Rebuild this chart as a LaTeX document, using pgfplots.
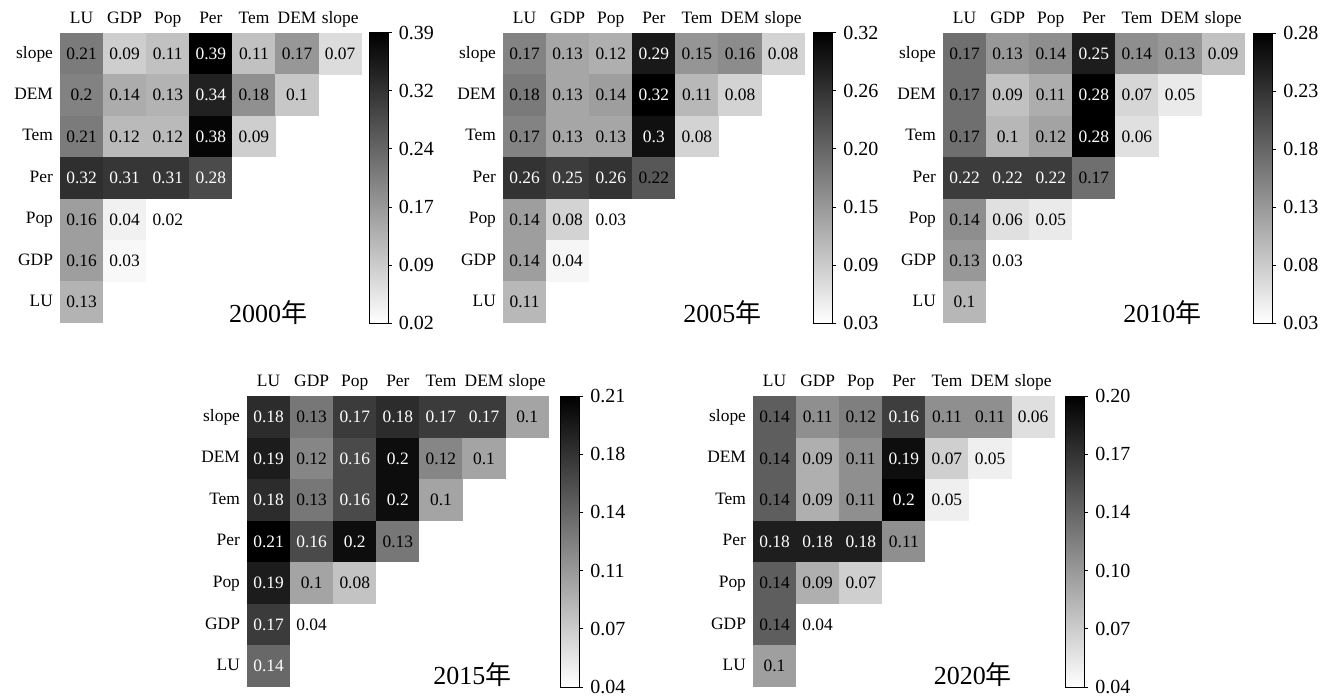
\documentclass[border=0pt]{standalone}
\usepackage{fontspec}
\setmainfont{Liberation Serif}
\newfontfamily\cjk{Noto Sans CJK SC}
\usepackage{pgfplots}
\pgfplotsset{compat=1.18}

\pgfdeclareplotmark{cellbox}{\pgfpathrectangle{\pgfqpoint{-10.8pt}{-10.4pt}}{\pgfqpoint{21.6pt}{20.8pt}}\pgfusepathqfill}

\pgfplotsset{
  colormap={wb}{color(0cm)=(white); color(1cm)=(black)},
  hm/.style n args={5}{
    anchor=south west, at={(#1,#2)},
    scale only axis, width=150.85pt, height=#3,
    xmin=-0.5, xmax=6.5, ymin=-0.5, ymax=6.5,
    xtick={0,...,6}, ytick={0,...,6},
    xticklabels={LU,GDP,Pop,Per,Tem,DEM,slope},
    yticklabels={LU,GDP,Pop,Per,Tem,DEM,slope},
    xticklabel pos=upper,
    axis line style={draw=none}, tick style={draw=none},
    tick label style={font=\fontsize{8.7}{10}\selectfont, text height=1.4ex, text depth=0.45ex},
    xticklabel shift=-1pt,
    colormap name=wb,
    point meta min=#4, point meta max=#5,
    clip=false,
  },
  cb/.style n args={5}{
    anchor=south west, at={(#1,#2)},
    scale only axis, width=9.5pt, height=#3,
    xmin=0, xmax=1, ymin=#4, ymax=#5,
    xtick=\empty,
    axis on top,
    axis line style={draw=black, line width=0.5pt},
    tick style={draw=black, line width=0.5pt},
    ytick pos=right, yticklabel pos=right,
    tick align=outside, major tick length=1.8pt,
    yticklabel style={font=\fontsize{10}{12}\selectfont},
  },
  cells/.style={
    only marks, mark=cellbox, point meta=explicit,
    scatter,
    scatter/use mapped color={draw=mapped color, fill=mapped color},
    scatter/@post marker code/.append code={%
      \node[anchor=center, inner sep=0pt, font=\fontsize{8.7}{10}\selectfont, text=#1]
        {\pgfmathprintnumber[fixed,precision=2,assume math mode=true]{\pgfplotspointmeta}};},
  },
}

\begin{document}
\begin{tikzpicture}
\useasboundingbox (0,0) rectangle (662pt,349pt);

% 2000
\begin{axis}[hm={30pt}{187.5pt}{145pt}{0.02}{0.39}]
\addplot[cells=black] coordinates {
 (0,6)[0.21] (1,6)[0.09] (2,6)[0.11] (4,6)[0.11] (5,6)[0.17] (6,6)[0.07]
 (0,5)[0.2] (1,5)[0.14] (2,5)[0.13] (4,5)[0.18] (5,5)[0.1]
 (0,4)[0.21] (1,4)[0.12] (2,4)[0.12] (4,4)[0.09]
 (0,2)[0.16] (1,2)[0.04] (2,2)[0.02]
 (0,1)[0.16] (1,1)[0.03]
 (0,0)[0.13]};
\addplot[cells=white] coordinates {
 (3,6)[0.39] (3,5)[0.34] (3,4)[0.38]
 (0,3)[0.32] (1,3)[0.31] (2,3)[0.31] (3,3)[0.28]};
\node[font=\fontsize{13}{15}\selectfont] at (axis cs:4.33,-0.24) {2000{\cjk 年}};
\end{axis}
\begin{axis}[cb={184.55pt}{187.5pt}{145pt}{0.02}{0.39},
  ytick={0.02,0.094,0.168,0.242,0.316,0.39},
  yticklabels={0.02,0.09,0.17,0.24,0.32,0.39}]
\fill[bottom color=white, top color=black] (axis cs:0,0.02) rectangle (axis cs:1,0.39);
\end{axis}

% 2005
\begin{axis}[hm={251.5pt}{187.5pt}{145pt}{0.03}{0.32}]
\addplot[cells=black] coordinates {
 (0,6)[0.17] (1,6)[0.13] (2,6)[0.12] (4,6)[0.15] (5,6)[0.16] (6,6)[0.08]
 (0,5)[0.18] (1,5)[0.13] (2,5)[0.14] (4,5)[0.11] (5,5)[0.08]
 (0,4)[0.17] (1,4)[0.13] (2,4)[0.13] (4,4)[0.08]
 (3,3)[0.22]
 (0,2)[0.14] (1,2)[0.08] (2,2)[0.03]
 (0,1)[0.14] (1,1)[0.04]
 (0,0)[0.11]};
\addplot[cells=white] coordinates {
 (3,6)[0.29] (3,5)[0.32] (3,4)[0.3]
 (0,3)[0.26] (1,3)[0.25] (2,3)[0.26]};
\node[font=\fontsize{13}{15}\selectfont] at (axis cs:4.59,-0.24) {2005{\cjk 年}};
\end{axis}
\begin{axis}[cb={406.85pt}{187.5pt}{145pt}{0.03}{0.32},
  ytick={0.03,0.088,0.146,0.204,0.262,0.32},
  yticklabels={0.03,0.09,0.15,0.20,0.26,0.32}]
\fill[bottom color=white, top color=black] (axis cs:0,0.03) rectangle (axis cs:1,0.32);
\end{axis}

% 2010
\begin{axis}[hm={471.5pt}{187.5pt}{145pt}{0.03}{0.28}]
\addplot[cells=black] coordinates {
 (0,6)[0.17] (1,6)[0.13] (2,6)[0.14] (4,6)[0.14] (5,6)[0.13] (6,6)[0.09]
 (0,5)[0.17] (1,5)[0.09] (2,5)[0.11] (4,5)[0.07] (5,5)[0.05]
 (0,4)[0.17] (1,4)[0.1] (2,4)[0.12] (4,4)[0.06]
 (3,3)[0.17]
 (0,2)[0.14] (1,2)[0.06] (2,2)[0.05]
 (0,1)[0.13] (1,1)[0.03]
 (0,0)[0.1]};
\addplot[cells=white] coordinates {
 (3,6)[0.25] (3,5)[0.28] (3,4)[0.28]
 (0,3)[0.22] (1,3)[0.22] (2,3)[0.22]};
\node[font=\fontsize{13}{15}\selectfont] at (axis cs:4.59,-0.24) {2010{\cjk 年}};
\node[font=\fontsize{8.7}{10}\selectfont, inner sep=0pt] at (axis cs:3.61,4.76) {o};
\end{axis}
\begin{axis}[cb={626.85pt}{187.5pt}{145pt}{0.03}{0.28},
  ytick={0.03,0.08,0.13,0.18,0.23,0.28},
  yticklabels={0.03,0.08,0.13,0.18,0.23,0.28}]
\fill[bottom color=white, top color=black] (axis cs:0,0.03) rectangle (axis cs:1,0.28);
\end{axis}

% 2015
\begin{axis}[hm={123.5pt}{5.5pt}{145.5pt}{0.04}{0.21}]
\addplot[cells=black] coordinates {
 (1,6)[0.13] (6,6)[0.1]
 (1,5)[0.12] (4,5)[0.12] (5,5)[0.1]
 (1,4)[0.13] (4,4)[0.1]
 (3,3)[0.13]
 (1,2)[0.1] (2,2)[0.08]
 (1,1)[0.04]};
\addplot[cells=white] coordinates {
 (0,6)[0.18] (2,6)[0.17] (3,6)[0.18] (4,6)[0.17] (5,6)[0.17]
 (0,5)[0.19] (2,5)[0.16] (3,5)[0.2]
 (0,4)[0.18] (2,4)[0.16] (3,4)[0.2]
 (0,3)[0.21] (1,3)[0.16] (2,3)[0.2]
 (0,2)[0.19]
 (0,1)[0.17]
 (0,0)[0.14]};
\node[font=\fontsize{13}{15}\selectfont] at (axis cs:4.73,-0.21) {2015{\cjk 年}};
\end{axis}
\begin{axis}[cb={280.35pt}{5.5pt}{145.5pt}{0.04}{0.21},
  ytick={0.04,0.074,0.108,0.142,0.176,0.21},
  yticklabels={0.04,0.07,0.11,0.14,0.18,0.21}]
\fill[bottom color=white, top color=black] (axis cs:0,0.04) rectangle (axis cs:1,0.21);
\end{axis}

% 2020
\begin{axis}[hm={376.5pt}{5.5pt}{145.5pt}{0.04}{0.20}]
\addplot[cells=black] coordinates {
 (0,6)[0.14] (1,6)[0.11] (2,6)[0.12] (4,6)[0.11] (5,6)[0.11] (6,6)[0.06]
 (0,5)[0.14] (1,5)[0.09] (2,5)[0.11] (4,5)[0.07] (5,5)[0.05]
 (0,4)[0.14] (1,4)[0.09] (2,4)[0.11] (4,4)[0.05]
 (3,3)[0.11]
 (0,2)[0.14] (1,2)[0.09] (2,2)[0.07]
 (0,1)[0.14] (1,1)[0.04]
 (0,0)[0.1]};
\addplot[cells=white] coordinates {
 (3,6)[0.16] (3,5)[0.19] (3,4)[0.2]
 (0,3)[0.18] (1,3)[0.18] (2,3)[0.18]};
\node[font=\fontsize{13}{15}\selectfont] at (axis cs:4.6,-0.21) {2020{\cjk 年}};
\end{axis}
\begin{axis}[cb={532.85pt}{5.5pt}{145.5pt}{0.04}{0.20},
  ytick={0.04,0.072,0.104,0.136,0.168,0.20},
  yticklabels={0.04,0.07,0.10,0.14,0.17,0.20}]
\fill[bottom color=white, top color=black] (axis cs:0,0.04) rectangle (axis cs:1,0.20);
\end{axis}
\end{tikzpicture}
\end{document}
